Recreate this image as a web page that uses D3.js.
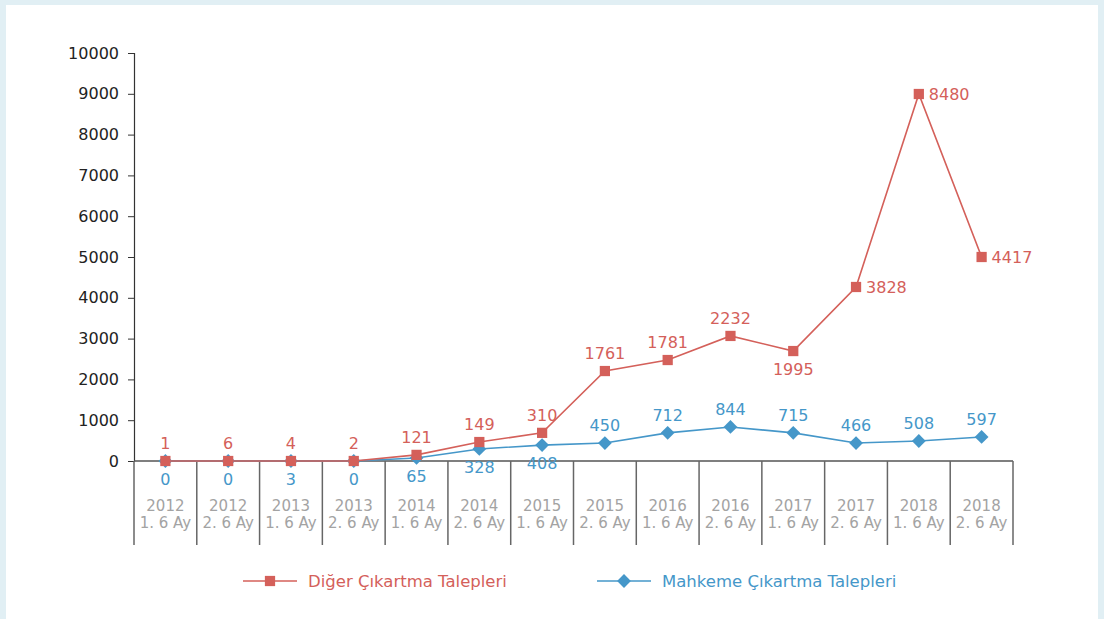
<!DOCTYPE html>
<html>
<head>
<meta charset="utf-8">
<script src="https://cdn.jsdelivr.net/npm/d3@7"></script>
<style>
  body { margin: 0; background: #e1eff4; }
  #panel { position: absolute; left: 6px; top: 5px; width: 1092px; height: 614px; background: #fff; }
  svg { position: absolute; left: 0; top: 0; }
  text { font-family: "DejaVu Sans", sans-serif; }
</style>
</head>
<body>
<div id="panel"></div>
<svg id="chart" width="1104" height="619"></svg>
<script>
// categories (two-line labels)
const years = ["2012", "2012", "2013", "2013", "2014", "2014", "2015", "2015", "2016", "2016", "2017", "2017", "2018", "2018"];
const halves = ["1. 6 Ay", "2. 6 Ay", "1. 6 Ay", "2. 6 Ay", "1. 6 Ay", "2. 6 Ay", "1. 6 Ay", "2. 6 Ay", "1. 6 Ay", "2. 6 Ay", "1. 6 Ay", "2. 6 Ay", "1. 6 Ay", "2. 6 Ay"];

// plotted heights as they appear in the picture, and the printed labels
const digerPlot = [0, 0, 0, 0, 150, 465, 690, 2205, 2475, 3065, 2695, 4265, 8995, 5000];
const digerLabels = [1, 6, 4, 2, 121, 149, 310, 1761, 1781, 2232, 1995, 3828, 8480, 4417];
const digerPos = ["up", "up", "up", "up", "up", "up", "up", "up", "up", "up", "down", "right", "right", "right"];

const mahkemePlot = [0, 0, 0, 0, 75, 295, 390, 440, 690, 835, 690, 440, 490, 590];
const mahkemeLabels = [0, 0, 3, 0, 65, 328, 408, 450, 712, 844, 715, 466, 508, 597];
const mahkemePos = ["down", "down", "down", "down", "down", "down", "down", "up", "up", "up", "up", "up", "up", "up"];

const yTicks = [0, 1000, 2000, 3000, 4000, 5000, 6000, 7000, 8000, 9000, 10000];

const red = "#d4605a";
const blue = "#4597c9";

const svg = d3.select("#chart");

const x = d3.scaleBand().domain(d3.range(years.length)).range([134, 1013]);
const y = d3.scaleLinear().domain([0, 10000]).range([461, 53]);

// y axis
const yAxis = svg.append("g").attr("transform", "translate(134,0)")
    .call(d3.axisLeft(y).tickValues(yTicks).tickSize(6).tickPadding(9).tickFormat(d3.format("d")));
yAxis.select(".domain").attr("stroke", "#333").attr("stroke-width", 1.2);
yAxis.selectAll(".tick line").attr("stroke", "#333");
yAxis.selectAll("text").attr("font-size", 16).attr("fill", "#222");

// x axis baseline and category separators
svg.append("line").attr("x1", 134).attr("x2", 1013).attr("y1", y(0)).attr("y2", y(0))
    .attr("stroke", "#555").attr("stroke-width", 1.5);
const bounds = d3.range(years.length + 1).map(i => i < years.length ? x(i) : x.range()[1]);
svg.selectAll(".sep").data(bounds).enter().append("line")
    .attr("x1", d => d).attr("x2", d => d).attr("y1", y(0)).attr("y2", 545)
    .attr("stroke", "#666").attr("stroke-width", 1.5);

const cat = svg.selectAll(".cat").data(years).enter().append("text")
    .attr("x", (d, i) => x(i) + x.bandwidth() / 2)
    .attr("text-anchor", "middle").attr("font-size", 15).attr("fill", "#a3a3a3");
cat.append("tspan").attr("x", (d, i) => x(i) + x.bandwidth() / 2).attr("y", 511).text(d => d);
cat.append("tspan").attr("x", (d, i) => x(i) + x.bandwidth() / 2).attr("y", 528).text((d, i) => halves[i]);

const cx = i => x(i) + x.bandwidth() / 2;
const line = d3.line().x((d, i) => cx(i)).y(d => y(d));

// marker: square, or square turned 45 degrees for the diamond
const marker = (sel, kind, color) => sel
    .attr("d", d3.symbol().type(d3.symbolSquare).size(kind === "diamond" ? 95 : 105))
    .attr("fill", color);

const drawSeries = (vals, labels, pos, color, kind) => {
    svg.append("path").datum(vals).attr("d", line)
        .attr("fill", "none").attr("stroke", color).attr("stroke-width", 1.6);
    svg.selectAll(null).data(vals).enter().append("path")
        .call(marker, kind, color)
        .attr("transform", (d, i) => `translate(${cx(i)},${y(d)})` + (kind === "diamond" ? " rotate(45)" : ""));
    svg.selectAll(null).data(vals).enter().append("text")
        .attr("x", (d, i) => pos[i] === "right" ? cx(i) + 10 : cx(i))
        .attr("y", (d, i) => pos[i] === "up" ? y(d) - 12 : pos[i] === "down" ? y(d) + 24 : y(d) + 6)
        .attr("text-anchor", (d, i) => pos[i] === "right" ? "start" : "middle")
        .attr("font-size", 16).attr("fill", color)
        .text((d, i) => labels[i]);
};

drawSeries(mahkemePlot, mahkemeLabels, mahkemePos, blue, "diamond");
drawSeries(digerPlot, digerLabels, digerPos, red, "square");

// legend
const legend = [
    { name: "Diğer Çıkartma Talepleri", color: red, kind: "square", x: 243 },
    { name: "Mahkeme Çıkartma Talepleri", color: blue, kind: "diamond", x: 597 }
];
const lg = svg.selectAll(".lg").data(legend).enter().append("g")
    .attr("transform", d => `translate(${d.x},581)`);
lg.append("line").attr("x1", 0).attr("x2", 54).attr("stroke", d => d.color).attr("stroke-width", 1.6);
lg.each(function (d) {
    d3.select(this).append("path").call(marker, d.kind, d.color)
        .attr("transform", "translate(27,0)" + (d.kind === "diamond" ? " rotate(45)" : ""));
});
lg.append("text").attr("x", 65).attr("y", 6).attr("font-size", 16.5).attr("fill", d => d.color)
    .text(d => d.name);
</script>
</body>
</html>
